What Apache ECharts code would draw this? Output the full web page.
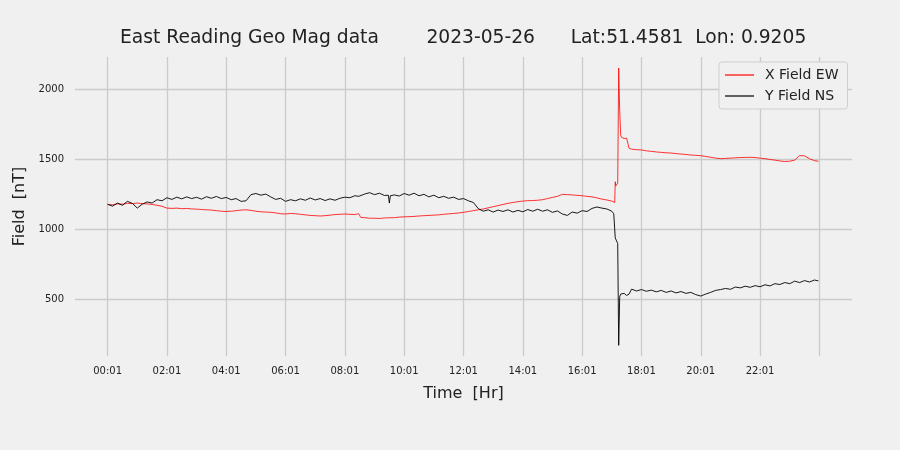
<!DOCTYPE html>
<html>
<head>
<meta charset="utf-8">
<script src="https://cdn.jsdelivr.net/npm/echarts@6/dist/echarts.min.js"></script>
<style>
html,body{margin:0;padding:0;background:#f0f0f0;}
#chart{width:900px;height:450px;}
</style>
</head>
<body>
<div id="chart"></div>
<script>
// minutes after 00:01
const minutes = [
  0,10,20,30,40,50,60,70,80,90,100,110,120,130,140,150,160,170,180,190,
  200,210,220,230,240,250,260,270,280,290,300,310,320,330,340,350,360,370,380,390,
  400,410,420,430,440,450,460,470,480,490,500,
  508,510,512,
  520,530,540,550,560,
  568,570,572,
  580,590,600,610,620,630,640,650,660,670,680,690,700,710,720,730,740,750,760,770,
  780,790,800,810,820,830,840,850,860,870,880,890,900,910,920,930,940,950,960,970,
  980,990,1000,1010,1020,
  1024,1026,1027,1028,1030,1032,1034,1036,1038,1040,1045,1050,1053,1055,1060,
  1070,1080,1090,1100,1110,1120,1130,1140,1150,1160,1170,1180,1190,1200,1210,1220,1230,1240,1250,1260,
  1270,1280,1290,1300,1310,1320,1330,1340,1350,1360,1370,1380,1390,1400,1410,1420,1430,
  1438
];
const xFieldEW = [
  1178,1176,1182,1180,1186,1184,1188,1184,1182,1178,1172,1165,1152,1150,1152,1148,1150,1146,1145,1142,
  1140,1138,1134,1130,1128,1130,1134,1138,1140,1136,1130,1126,1124,1122,1118,1112,1110,1114,1112,1108,
  1104,1100,1098,1096,1098,1102,1106,1108,1110,1108,1106,
  1112,1126,1086,
  1084,1080,1080,1078,1082,
  1083,1083,1084,
  1084,1088,1090,1091,1093,1096,1098,1100,1102,1104,1108,1111,1114,1117,1122,1128,1134,1140,1146,1154,
  1162,1170,1178,1186,1192,1198,1202,1205,1206,1208,1212,1220,1228,1236,1250,1248,1246,1243,1240,1236,
  1232,1225,1216,1210,1202,
  1196,1192,1340,1310,1300,1330,2150,1850,1670,1655,1648,1650,1662,1578,1572,
  1568,1566,1560,1556,1552,1549,1546,1544,1540,1537,1534,1530,1528,1525,1520,1514,1508,1504,1506,1508,
  1510,1512,1513,1514,1512,1508,1504,1498,1494,1488,1484,1486,1494,1526,1524,1504,1490,
  1486
];
const yFieldNS = [
  1179,1166,1188,1172,1200,1186,1152,1180,1196,1188,1212,1204,1226,1214,1230,1218,1232,1220,1229,1216,
  1233,1222,1235,1220,1228,1212,1220,1200,1204,1248,1256,1244,1252,1232,1214,1222,1200,1212,1204,1218,
  1208,1224,1210,1220,1206,1218,1208,1222,1230,1226,1240,
  1236,1232,1238,
  1252,1262,1248,1258,1242,
  1244,1188,1240,
  1246,1238,1256,1244,1258,1240,1250,1232,1244,1226,1236,1222,1230,1214,1220,1204,1192,1148,1130,1140,
  1124,1138,1128,1140,1124,1136,1126,1142,1130,1144,1130,1140,1122,1132,1110,1100,1124,1116,1134,1128,
  1150,1160,1152,1146,1130,
  1112,1098,940,935,928,900,175,520,540,528,545,530,535,540,575,
  562,572,560,568,556,566,552,562,548,558,545,552,536,526,540,552,566,572,580,574,
  590,584,596,588,600,592,606,598,614,608,622,614,632,622,636,626,640,
  634
];
const seriesNames = ['X Field EW', 'Y Field NS'];
const xTickValues = [0,120,240,360,480,600,720,840,960,1080,1200,1320,1440];
const xLabelValues = [0,120,240,360,480,600,720,840,960,1080,1200,1320];
const xTickLabels = ['00:01','02:01','04:01','06:01','08:01','10:01','12:01','14:01','16:01','18:01','20:01','22:01'];
const yTickValues = [500,1000,1500,2000];
const titleText = 'East Reading Geo Mag data        2023-05-26      Lat:51.4581  Lon: 0.9205';

const pair = (vals) => minutes.map((m, i) => [m, vals[i]]);
const FONT = 'DejaVu Sans';
const chart = echarts.init(document.getElementById('chart'), null, {renderer: 'canvas'});
chart.setOption({
  animation: false,
  backgroundColor: '#f0f0f0',
  title: {
    text: titleText,
    left: 115, top: 24,
    textStyle: {fontFamily: FONT, fontSize: 18.7, fontWeight: 'normal', color: '#222'}
  },
  legend: {
    data: seriesNames,
    icon: 'rect',
    orient: 'vertical',
    left: 719, top: 62,
    padding: [6, 9, 6, 6],
    itemGap: 7,
    itemWidth: 29, itemHeight: 1.2,
    backgroundColor: '#f0f0f0',
    borderColor: '#cfcfcf', borderWidth: 1, borderRadius: 3,
    textStyle: {fontFamily: FONT, fontSize: 14, color: '#222', padding: [0, 0, 0, 6]}
  },
  grid: {left: 75, right: 48, top: 57, bottom: 94, containLabel: false},
  xAxis: {
    type: 'value',
    min: -66, max: 1506,
    name: 'Time  [Hr]', nameLocation: 'middle', nameGap: 30,
    nameTextStyle: {fontFamily: FONT, fontSize: 16, color: '#222'},
    axisLine: {show: false},
    axisTick: {show: false, customValues: xTickValues},
    axisLabel: {
      customValues: xLabelValues,
      fontFamily: FONT, fontSize: 10, color: '#222', margin: 10,
      formatter: (v) => xTickLabels[xLabelValues.indexOf(v)] || ''
    },
    splitLine: {show: true, lineStyle: {color: '#cbcbcb', width: 1.3}}
  },
  yAxis: {
    type: 'value',
    min: 99, max: 2228,
    name: 'Field  [nT]', nameLocation: 'middle', nameGap: 36,
    nameTextStyle: {fontFamily: FONT, fontSize: 16, color: '#222'},
    axisLine: {show: false},
    axisTick: {show: false, customValues: yTickValues},
    axisLabel: {customValues: yTickValues, fontFamily: FONT, fontSize: 10, color: '#222', margin: 11,
      formatter: (v) => String(v)},
    splitLine: {show: true, lineStyle: {color: '#cbcbcb', width: 1.3}}
  },
  series: [
    {name: seriesNames[0], type: 'line', data: pair(xFieldEW), symbol: 'none',
     lineStyle: {color: '#ff0000', width: 0.8}, itemStyle: {color: '#ff0000'}},
    {name: seriesNames[1], type: 'line', data: pair(yFieldNS), symbol: 'none',
     lineStyle: {color: '#000000', width: 0.9}, itemStyle: {color: '#000000'}}
  ]
});
</script>
</body>
</html>
